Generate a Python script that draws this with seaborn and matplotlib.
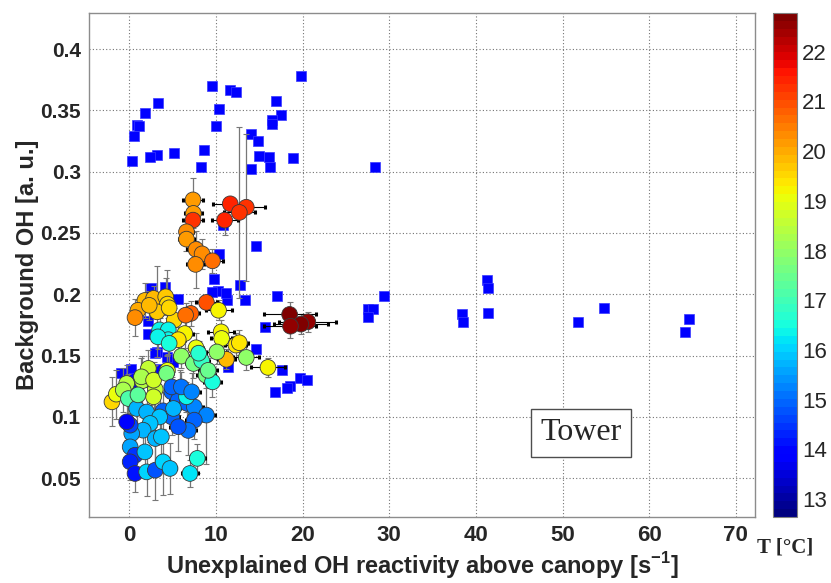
import matplotlib
matplotlib.use('Agg')
import matplotlib.pyplot as plt
import matplotlib.colors as mcolors
import numpy as np
import pandas as pd
import seaborn as sns

# Blue squares (background OH vs reactivity, all data)
sq_x = [19.8, 9.6, 11.65, 12.3, 3.35, 16.9, 1.78, 10.3, 17.5, 16.5, 16.5, 0.85, 1.15, 10.0, 0.54,
        14.0, 14.85, 8.6, 5.16, 3.16, 2.39, 0.31, 15.0, 16.1, 18.9, 16.2, 8.27, 14.0, 28.4,
        10.4, 14.6, 9.8, 10.2, 9.5, 12.8, 11.3, 13.3, 17.0, 2.5, 4.15, 5.65, 10.8, 15.7,
        14.6, 17.6, 19.65, 20.5, 18.5, 18.2, 16.8, 11.4,
        29.4, 27.6, 28.1, 27.5, 41.3, 41.4, 38.4, 38.5, 41.4, 54.8, 51.8, 64.6, 64.1,
        2.2, 2.2, 3.2, 0.2, 3.5, 5.1, 11.2, 3.0, 4.3, -0.9, 0.5, 1.0]
sq_y = [0.378, 0.370, 0.367, 0.365, 0.356, 0.358, 0.348, 0.351, 0.346, 0.342, 0.339, 0.338, 0.337, 0.337, 0.329,
        0.331, 0.325, 0.318, 0.315, 0.314, 0.312, 0.309, 0.313, 0.312, 0.311, 0.304, 0.3035, 0.302, 0.304,
        0.233, 0.239, 0.2124, 0.203, 0.2015, 0.2075, 0.195, 0.195, 0.199, 0.205, 0.2056, 0.196, 0.2565, 0.1735,
        0.155, 0.138, 0.1316, 0.1305, 0.1254, 0.124, 0.120, 0.141,
        0.199, 0.188, 0.188, 0.1814, 0.2116, 0.205, 0.1836, 0.1773, 0.1844, 0.189, 0.1773, 0.180, 0.169,
        0.178, 0.168, 0.153, 0.139, 0.139, 0.145, 0.2007, 0.152, 0.149, 0.1355, 0.1315, 0.125]

# Circles coloured by temperature, with error bars
c_x = [7.35, 7.4, 7.35, 6.6, 6.6, 7.7, 8.4, 9.6, 7.65, 11.65, 13.5, 12.7, 11.0,
       1.8, 2.8, 4.2, 4.4, 1.0, 0.66, 3.2, 5.2, 4.6, 2.3, 8.9, 7.1, 6.5, 10.3,
       3.5, 4.5, 4.5, 3.3, 6.4, 5.65, 10.6, 10.65, 7.7, 12.3, 12.7, 11.2, 10.1, 13.5,
       6.0, 7.4, 8.35, 8.85, 9.6, 16.0, 8.0, 9.1, 18.5, 20.6, 19.8, 18.6,
       4.6, 2.2, 1.5, 3.0, 2.8, -2.0, -1.5, -0.3, -0.7, -0.1, 4.4,
       4.9, 5.9, 5.65, 6.7, 7.5, 6.6, 8.9, 7.5, 6.8, 3.9, 4.9, 5.65,
       0.85, 2.0, 3.5, 2.4, 1.6, 0.28, 3.0, 3.7, 0.1, -0.3, 0.1, 0.66, 1.8,
       0.1, 0.66, 2.0, 3.0, 3.9, 4.7, 7.85, 7.0, 5.1, 1.4, 2.8, 4.3,
       4.9, 6.0, 7.2, 1.0]
c_y = [0.277, 0.266, 0.2605, 0.251, 0.245, 0.2366, 0.233, 0.2273, 0.2244, 0.2738, 0.271, 0.2668, 0.2605,
       0.195, 0.1967, 0.198, 0.192, 0.187, 0.181, 0.1857, 0.179, 0.189, 0.191, 0.1934, 0.1844, 0.183, 0.187,
       0.171, 0.171, 0.163, 0.1653, 0.168, 0.163, 0.1694, 0.164, 0.1564, 0.1586, 0.1605, 0.147, 0.153, 0.1485,
       0.1496, 0.1436, 0.146, 0.134, 0.1286, 0.1404, 0.152, 0.138, 0.1836, 0.1776, 0.1757, 0.174,
       0.160, 0.1396, 0.1295, 0.1225, 0.1164, 0.1123, 0.1186, 0.1273, 0.122, 0.115, 0.138,
       0.1205, 0.123, 0.1137, 0.111, 0.1082, 0.1164, 0.1015, 0.0974, 0.089, 0.105, 0.100, 0.092,
       0.1069, 0.104, 0.100, 0.0947, 0.0892, 0.0865, 0.0824, 0.0838, 0.0933, 0.096, 0.0756, 0.0688, 0.0715,
       0.0634, 0.0539, 0.0552, 0.0566, 0.0634, 0.058, 0.0662, 0.0539, 0.1069, 0.1327, 0.130, 0.1355,
       0.1245, 0.1245, 0.1205, 0.118]
c_T = [20.1, 20.2, 21.3, 20.3, 20.2, 20.3, 20.4, 20.6, 20.4, 21.4, 21.3, 21.2, 21.4,
       19.8, 19.9, 19.7, 19.6, 20.0, 20.3, 19.7, 19.6, 19.6, 19.8, 21.0, 20.8, 20.7, 19.2,
       16.4, 16.3, 16.3, 16.4, 19.2, 19.4, 19.2, 19.0, 19.1, 19.3, 19.4, 19.8, 18.0, 17.9,
       17.9, 17.7, 16.8, 17.6, 16.6, 19.2, 16.7, 17.5, 22.7, 22.6, 22.7, 22.6,
       16.5, 18.6, 18.5, 18.6, 18.8, 19.5, 19.1, 18.5, 18.2, 17.2, 19.0,
       15.0, 15.1, 15.0, 15.0, 15.2, 16.3, 15.3, 15.0, 15.1, 15.0, 15.0, 14.8,
       15.7, 15.7, 15.9, 15.9, 15.8, 15.6, 15.8, 15.9, 14.6, 13.8, 15.6, 14.4, 15.9,
       14.3, 14.2, 16.0, 14.8, 16.0, 15.9, 16.5, 16.2, 15.8, 18.3, 18.7, 17.7,
       15.0, 15.1, 15.3, 17.3]
c_xerr = [1.1, 1.0, 1.1, 0.8, 0.9, 1.0, 0.8, 1.2, 1.0, 2.0, 2.2, 1.8, 1.5,
          0.6, 0.6, 0.6, 0.6, 0.5, 0.5, 0.6, 0.7, 0.6, 0.6, 1.2, 1.0, 1.0, 1.5,
          0.6, 0.7, 0.7, 0.6, 0.9, 0.8, 1.5, 1.2, 0.8, 1.2, 1.0, 1.0, 1.2, 1.5,
          0.8, 0.8, 0.8, 1.0, 1.0, 2.0, 0.8, 1.0, 3.0, 3.3, 3.1, 3.0,
          0.6, 0.6, 0.6, 0.6, 0.6, 0.5, 0.5, 0.5, 0.5, 0.5, 0.6,
          0.8, 1.0, 0.9, 1.0, 1.0, 0.9, 1.0, 1.0, 0.9, 0.7, 0.8, 0.9,
          0.6, 0.6, 0.6, 0.6, 0.6, 0.5, 0.6, 0.6, 0.5, 0.5, 0.5, 0.5, 0.6,
          0.5, 0.5, 0.6, 0.6, 0.6, 0.7, 0.9, 0.9, 0.8, 0.6, 0.6, 0.7,
          0.8, 0.9, 1.0, 0.6]
c_yerr = [0.018, 0.012, 0.010, 0.010, 0.010, 0.015, 0.012, 0.010, 0.019, 0.005, 0.060, 0.070, 0.012,
          0.014, 0.010, 0.015, 0.028, 0.008, 0.015, 0.037, 0.010, 0.010, 0.012, 0.005, 0.010, 0.010, 0.008,
          0.010, 0.010, 0.012, 0.010, 0.012, 0.010, 0.010, 0.010, 0.012, 0.010, 0.010, 0.008, 0.010, 0.010,
          0.010, 0.012, 0.010, 0.010, 0.012, 0.008, 0.010, 0.010, 0.010, 0.008, 0.008, 0.010,
          0.020, 0.015, 0.020, 0.020, 0.025, 0.020, 0.020, 0.015, 0.018, 0.020, 0.012,
          0.012, 0.015, 0.012, 0.015, 0.012, 0.012, 0.040, 0.015, 0.020, 0.015, 0.015, 0.020,
          0.015, 0.015, 0.020, 0.015, 0.015, 0.015, 0.020, 0.020, 0.015, 0.015, 0.015, 0.015, 0.020,
          0.015, 0.015, 0.020, 0.024, 0.027, 0.021, 0.012, 0.011, 0.015, 0.015, 0.015, 0.015,
          0.012, 0.012, 0.015, 0.015]

T_min, T_max = 12.64, 22.78
cb_ticks = [13, 14, 15, 16, 17, 18, 19, 20, 21, 22]
x_ticks = [0, 10, 20, 30, 40, 50, 60, 70]
y_ticks = [0.05, 0.1, 0.15, 0.2, 0.25, 0.3, 0.35, 0.4]
y_labels = ['0.05', '0.1', '0.15', '0.2', '0.25', '0.3', '0.35', '0.4']

df_sq = pd.DataFrame({'x': sq_x, 'y': sq_y})
df_c = pd.DataFrame({'x': c_x, 'y': c_y, 'T': c_T, 'xerr': c_xerr, 'yerr': c_yerr})

sns.set_style('white')
plt.rcParams['font.family'] = ['Liberation Sans', 'DejaVu Sans']
plt.rcParams['mathtext.fontset'] = 'custom'
plt.rcParams['mathtext.rm'] = 'Liberation Sans'
plt.rcParams['mathtext.bf'] = 'Liberation Sans:bold'

jet = plt.get_cmap('jet', 64)
norm = mcolors.Normalize(vmin=T_min, vmax=T_max)

fig = plt.figure(figsize=(8.31, 5.83), dpi=100)
ax = fig.add_axes([0.1071, 0.1132, 0.8014, 0.8645])
cax = fig.add_axes([0.9302, 0.1132, 0.0289, 0.8645])

# squares first
sns.scatterplot(data=df_sq, x='x', y='y', marker='s', s=44, color='#0000ff',
                edgecolor='#3a3aff', linewidth=0.5, ax=ax, zorder=2, legend=False)

# error bars
ax.errorbar(df_c['x'], df_c['y'], yerr=df_c['yerr'], fmt='none', ecolor='#777777',
            elinewidth=0.9, capsize=2, capthick=0.8, zorder=3)
ax.errorbar(df_c['x'], df_c['y'], xerr=df_c['xerr'], fmt='none', ecolor='black',
            elinewidth=0.8, capsize=1.2, capthick=2.2, zorder=3)

# temperature circles
sns.scatterplot(data=df_c, x='x', y='y', hue='T', palette=jet, hue_norm=norm,
                s=128, edgecolor='#3a3a3a', linewidth=0.6, ax=ax, zorder=4, legend=False)

ax.set_xlim(-4.65, 72.2)
ax.set_ylim(0.0184, 0.4294)
ax.set_xticks(x_ticks)
ax.set_yticks(y_ticks)
ax.set_yticklabels(y_labels)
ax.tick_params(axis='x', labelsize=16, direction='in', length=4, color='0.5', pad=6)
ax.tick_params(axis='y', labelsize=15, direction='in', length=4, color='0.5', pad=6)
for lbl in ax.get_xticklabels() + ax.get_yticklabels():
    lbl.set_fontweight('bold')
ax.grid(True, color='0.45', linestyle=(0, (1, 2)), linewidth=0.8)
for sp in ax.spines.values():
    sp.set_color('0.55')
    sp.set_linewidth(1)

ax.set_xlabel(r'Unexplained OH reactivity above canopy [s$^{\mathbf{-1}}$]',
              fontsize=17, fontweight='bold', labelpad=3)
ax.set_ylabel('Background OH [a. u.]', fontsize=17, fontweight='bold', labelpad=1)

ax.text(0.739, 0.167, 'Tower', transform=ax.transAxes, ha='center', va='center',
        fontsize=23, family='Liberation Serif', zorder=6,
        bbox=dict(boxstyle='square,pad=0.3', facecolor='white', edgecolor='0.3', linewidth=1))

sm = plt.cm.ScalarMappable(norm=norm, cmap=jet)
cb = fig.colorbar(sm, cax=cax, ticks=cb_ticks)
cb.outline.set_edgecolor('0.5')
cax.tick_params(labelsize=16, direction='in', length=4, color='0.2', left=True)
cax.text(0.5, -0.04, 'T [°C]', transform=cax.transAxes, ha='center', va='top',
         fontsize=15, fontweight='bold', family='Liberation Serif')

fig.savefig('out.png', dpi=100)
